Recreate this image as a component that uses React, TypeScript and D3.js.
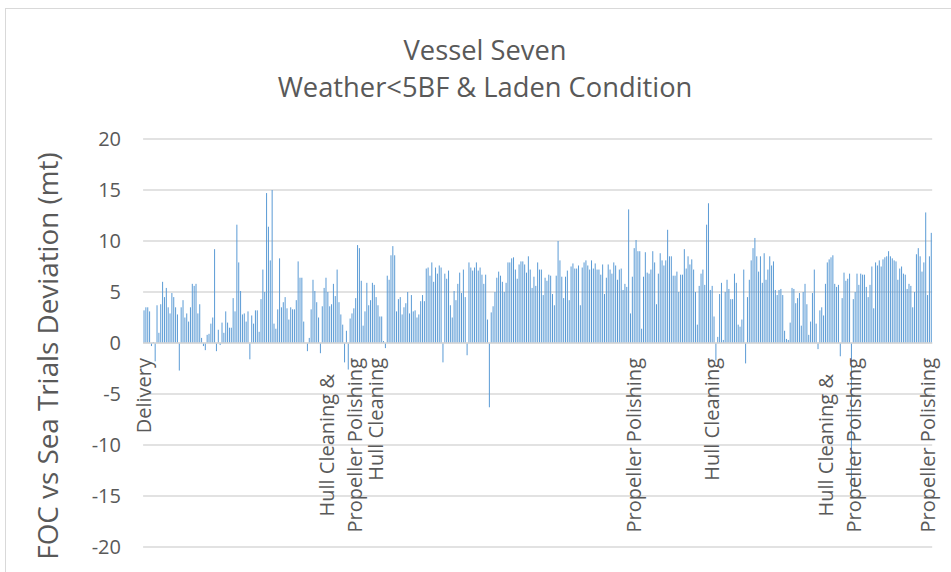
import React, { useMemo } from "react";
import * as d3 from "d3";

// FOC deviation from sea-trial baseline (mt), one entry per voyage report, in time order
const focDelivery = [
  3.2, 3.5, 3.5, 3.1, -0.3, 0.1, -1.8, 3.7, 1.0, 3.8,
  6.0, 4.5, 5.4, 3.5, 2.9, 4.9, 4.5, 3.5, 2.8, -2.7,
  3.5, 4.2, 2.5, 2.9, 2.1, 3.5, 5.8, 5.6, 5.8, 2.9,
  3.8, 0.5, -0.3, -0.7, 0.8, 0.9, 1.9, 2.5, 9.2, -0.8,
  1.3, -0.2, 2.0, 1.0, 3.1, 2.0, 1.5, 1.5, 4.4, 3.1,
  11.6, 7.9, 5.1, 2.8, 2.9, 2.1, 3.1, -1.6, 2.7, 1.9,
  3.2, 3.2, 1.1, 4.3, 7.2, 5.0, 14.7, 11.4, 8.1, 15.0,
  1.9, 1.4, 3.3, 8.3, 3.5, 4.0, 4.5, 3.4, 2.3, 3.5,
  3.3, 3.3, 4.2, 8.0,
];
const focFirstDocking = [
  6.4, 6.4, 2.1, 0.0, -0.8, 0.5, 3.3, 6.2, 5.1, 4.0,
  2.5, -1.0, 3.6, 5.4, 6.4, 5.0, 3.6, 3.8, 5.8, 4.6,
  7.2, 4.0, 2.8, 1.8, -1.9, 1.2, -2.6, 2.4, 2.9, 3.4,
  4.4, 9.6, 9.3, 6.1, 1.7, 3.1, 5.9, 3.7, 4.2, 5.9,
  5.7, 4.5, 3.7, 2.6, 2.6, 0.2, -0.5, 6.6, 6.2, 8.6,
  9.5, 8.6, 3.1, 4.3, 4.5, 2.8, 3.5, 3.9, 5.0, 2.9,
  4.7, 3.1, 3.2, 2.5, 2.8, 4.1, 4.7, 4.1, 7.3, 7.4,
  6.6, 7.9, 6.0, 7.4, 6.8, 7.6, 7.4, -1.9, 6.8, 6.3,
  7.1, 3.7, 2.5, 5.1, 4.2,
];
const focMidLife = [
  5.8, 6.9, 4.9, 7.2, 4.5, -1.2, 7.9, 7.4, 7.1, 7.4,
  7.9, 7.1, 7.4, 6.7, 5.8, 6.7, 2.3, -6.3, 3.0, 3.6,
  5.0, 6.4, 7.0, 6.6, 6.0, 5.0, 5.9, 7.9, 7.9, 8.3,
  8.4, 7.2, 6.3, 7.7, 8.0, 8.0, 7.7, 6.9, 8.5, 7.2,
  5.4, 6.5, 5.6, 7.9, 7.2, 7.2, 4.7, 6.4, 6.1, 6.7,
  6.6, 4.8, 3.7, 6.6, 10.0, 8.1, 6.5, 4.4, 6.5, 7.1,
  4.2, 7.5, 7.8, 7.3, 7.3, 7.6, 3.7, 7.4, 7.9, 8.1,
  7.6, 7.2, 8.1, 7.3, 7.8, 7.2, 7.2, 6.7, 7.7, 4.8,
  6.4, 7.7, 7.2, 6.8, 7.9,
];
const focSecondPeriod = [
  7.6, 6.2, 7.2, 7.3, 5.2, 5.8, 5.5, 13.1, 2.9, 6.5,
  9.3, 10.1, 9.0, 9.0, 1.4, 6.5, 8.9, 6.9, 6.8, 7.2,
  9.0, 7.9, 3.8, 6.8, 8.8, 8.1, 7.6, 8.1, 11.1, 8.5,
  8.5, 6.6, 6.6, 7.0, 5.0, 6.7, 6.7, 9.2, 7.3, 8.5,
  7.7, 8.2, 7.2, 5.0, 1.8, 5.6, 6.8, 7.2, 5.7, 11.6,
  13.7, 5.2, 5.6, 2.6, -1.7, 0.6, 4.8, 5.9, 0.3, 5.0,
  6.2, 5.3, 4.3, 4.3, 6.8, 5.9, 1.8, 1.6, 2.3, 7.2,
  -2.0, 4.5, 6.2, 8.1, 9.3, 10.3, 8.5, 7.0, 8.5, 5.9,
  8.8, 6.2, 7.2, 8.5, 7.6,
];
const focLatest = [
  8.0, 5.2, 4.7, 5.2, 5.3, 4.7, 1.2, 0.4, 0.3, 2.0,
  5.4, 5.3, 3.9, 4.4, 4.9, 1.7, 5.0, 5.8, 3.8, 0.8,
  2.1, 4.9, 7.2, 1.9, -0.6, 3.2, 3.5, 2.7, 5.8, 7.9,
  8.2, 8.4, 8.6, 5.8, 5.5, 5.7, -1.3, 4.4, 6.9, 6.1,
  6.3, 6.8, -14.5, 4.3, 5.0, 6.8, 5.7, 6.8, 6.7, 6.7,
  5.5, 4.5, 5.7, 7.5, 3.4, 7.9, 7.6, 8.1, 7.5, 8.2,
  8.4, 8.5, 9.0, 8.5, 8.3, 8.1, 8.0, 6.2, 7.3, 7.5,
  6.8, 6.7, 5.3, 5.8, 5.6, 3.5, 5.0, 8.7, 9.3, 8.5,
  7.0, 7.9, 12.8, 4.7, 8.5, 10.8,
];

// Maintenance events, placed on the report they precede
const eventIndex = [0, 106, 125, 264, 306, 375, 422];
const eventText = [
  "Delivery",
  "Hull Cleaning &\nPropeller Polishing",
  "Hull Cleaning",
  "Propeller Polishing",
  "Hull Cleaning",
  "Hull Cleaning &\nPropeller Polishing",
  "Propeller Polishing",
];

const yTicks = [-20, -15, -10, -5, 0, 5, 10, 15, 20];
const titleLines = ["Vessel Seven", "Weather<5BF & Laden Condition"];
const yTitle = "FOC vs Sea Trials Deviation (mt)";

const W = 951;
const H = 572;
const FONT = "'Open Sans', 'DejaVu Sans', sans-serif";
const TEXT = "#595959";
const GRID = "#D9D9D9";
const BAR = "#5B9BD5";

export default function App() {
  const values = useMemo(
    () => [...focDelivery, ...focFirstDocking, ...focMidLife, ...focSecondPeriod, ...focLatest],
    []
  );
  const categories = useMemo(() => {
    const c = values.map(() => "");
    eventIndex.forEach((idx, k) => {
      c[idx] = eventText[k];
    });
    return c;
  }, [values]);

  const x = d3
    .scaleBand<number>()
    .domain(d3.range(values.length))
    .range([143.1, 932.2])
    .paddingInner(0);
  const y = d3.scaleLinear().domain([-20, 20]).range([547, 139]);
  const step = x.step();
  const barW = 1;

  const measure = useMemo(() => {
    const ctx = document.createElement("canvas").getContext("2d");
    return (s: string) => {
      if (!ctx) return s.length * 10;
      ctx.font = `20px ${FONT}`;
      return ctx.measureText(s).width;
    };
  }, []);

  const [x0, x1] = x.range();

  return (
    <svg
      width={W}
      height={H}
      style={{ position: "absolute", left: 0, top: 0, background: "#fff" }}
      fontFamily={FONT}
    >
      <rect x={0} y={0} width={W} height={H} fill="#fff" />
      {/* chart area frame */}
      <rect x={5.5} y={8.5} width={W + 40} height={H + 40} fill="none" stroke={GRID} strokeWidth={1} />

      {/* title */}
      {titleLines.map((t, i) => (
        <text key={t} x={485} y={60 + i * 37} textAnchor="middle" fontSize={27.3} fill={TEXT}>
          {t}
        </text>
      ))}

      {/* gridlines */}
      {yTicks.map((t) => (
        <line key={t} x1={x0} x2={x1} y1={y(t)} y2={y(t)} stroke={GRID} strokeWidth={1.5} />
      ))}

      {/* bars */}
      {values.map((v, i) => {
        const cx = (x(i) as number) + step / 2;
        const top = Math.min(y(v), y(0));
        return (
          <rect
            key={i}
            x={cx - barW / 2}
            y={top}
            width={barW}
            height={Math.abs(y(v) - y(0))}
            fill={BAR}
          />
        );
      })}

      {/* horizontal axis line */}
      <line x1={x0} x2={x1} y1={y(0)} y2={y(0)} stroke={GRID} strokeWidth={1.5} />

      {/* y tick labels */}
      {yTicks.map((t) => (
        <text key={t} x={121} y={y(t) + 7} textAnchor="end" fontSize={20} fill={TEXT}>
          {t}
        </text>
      ))}

      {/* y axis title */}
      <text
        transform={`translate(58,356) rotate(-90)`}
        textAnchor="middle"
        fontSize={27.8}
        fill={TEXT}
      >
        {yTitle}
      </text>

      {/* category (event) labels */}
      {categories.map((c, i) => {
        if (!c) return null;
        const lines = c.split("\n");
        const maxLen = Math.max(...lines.map(measure));
        const mid = 358 + maxLen / 2;
        const cx = (x(i) as number) + step / 2;
        return (
          <g key={i}>
            {lines.map((ln, k) => {
              const bx = cx + (k - (lines.length - 1) / 2) * 28 + 7;
              return (
                <text
                  key={k}
                  transform={`translate(${bx},${mid}) rotate(-90)`}
                  textAnchor="middle"
                  fontSize={20}
                  fill={TEXT}
                >
                  {ln}
                </text>
              );
            })}
          </g>
        );
      })}
    </svg>
  );
}
